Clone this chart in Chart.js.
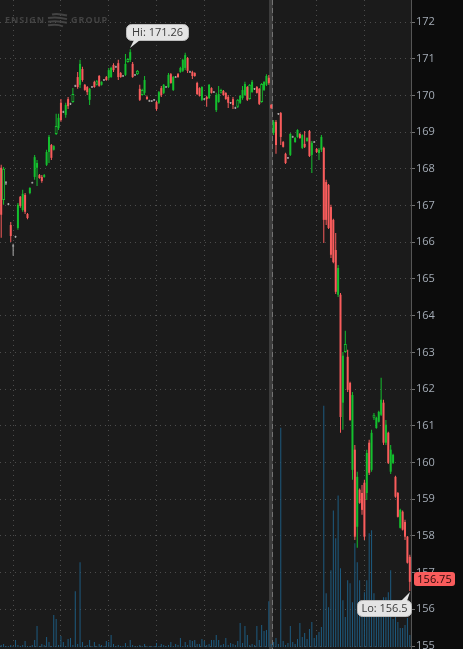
<!DOCTYPE html>
<html lang="en">
<head>
<meta charset="UTF-8">
<title>ENSG intraday</title>
<script src="https://cdn.jsdelivr.net/npm/chart.js"></script>
<style>
    html, body { margin: 0; padding: 0; background: #0c0c0c; }
    #wrap { width: 463px; height: 649px; }
</style>
</head>
<body>
<div id="wrap"><canvas id="priceChart" width="463" height="649"></canvas></div>
<script>
// 3-minute bars, two sessions (session break before bar 113)
const opens = [
    168.03,168.00,167.62,167.04,166.47,165.90,166.15,166.39,167.24,166.88,
    167.29,166.77,167.34,167.62,167.78,168.03,167.83,167.78,167.78,168.11,
    168.46,168.65,168.52,169.17,169.11,169.80,169.55,169.47,169.90,169.77,
    170.04,170.26,170.50,170.29,170.72,170.29,170.23,169.88,170.23,170.37,
    170.39,170.53,170.29,170.42,170.50,170.48,170.50,170.83,170.78,170.88,
    170.61,170.53,170.56,170.99,170.97,170.86,170.56,170.67,170.18,170.15,
    170.07,169.96,169.85,169.85,169.88,169.82,169.80,170.20,170.07,170.23,
    170.23,170.58,170.15,170.50,170.58,170.64,170.67,170.75,171.02,170.64,
    170.64,170.61,170.34,170.20,169.88,169.90,169.96,169.93,170.20,170.09,
    169.60,169.82,170.15,170.12,170.07,169.96,169.80,169.90,169.66,169.88,
    169.80,169.93,170.01,170.23,170.29,170.09,170.18,170.23,170.18,170.31,
    170.15,170.29,170.48,
    169.74,168.98,169.28,169.50,169.52,168.73,168.41,168.30,168.38,168.87,
    168.73,168.87,168.95,168.57,168.68,168.76,169.03,168.38,168.73,168.54,
    168.43,168.52,168.57,167.64,167.56,166.96,166.61,165.79,164.57,164.57,
    161.63,163.23,162.88,162.17,159.80,160.35,158.25,159.26,159.17,159.45,
    159.17,160.54,159.80,161.30,160.94,161.11,161.30,161.63,160.54,160.81,
    159.75,159.99,159.61,159.17,158.22,158.66,158.38,157.98,157.43
];
const highs = [
    168.11,168.05,167.67,167.07,166.55,165.96,166.18,167.07,167.26,167.43,
    167.34,166.80,167.50,167.65,168.38,168.24,167.86,167.83,167.86,168.52,
    168.92,168.68,168.64,169.50,169.50,169.90,169.58,169.80,169.96,169.80,
    170.20,170.29,170.64,170.97,170.78,170.31,170.26,170.20,170.26,170.40,
    170.42,170.56,170.39,170.45,170.53,170.75,170.78,170.88,170.81,170.97,
    170.64,170.56,171.13,171.02,171.26,170.91,170.58,170.69,170.29,170.18,
    170.53,170.00,169.88,169.87,169.90,169.85,170.12,170.26,170.31,170.26,
    170.61,170.61,170.53,170.53,170.61,170.78,171.00,171.16,171.05,170.67,
    170.67,170.63,170.37,170.22,170.25,169.93,169.99,170.31,170.22,170.12,
    170.07,170.26,170.18,170.15,170.09,170.01,169.82,169.96,169.69,169.90,
    170.01,170.26,170.37,170.26,170.31,170.42,170.20,170.26,170.20,170.34,
    170.39,170.58,170.56,
    169.77,169.33,169.33,169.52,169.55,168.76,168.44,168.32,168.98,168.90,
    168.87,169.08,168.98,168.94,169.03,168.86,169.06,168.76,168.76,168.57,
    168.57,168.92,168.60,167.70,167.59,167.02,166.64,166.25,165.38,164.62,
    163.01,163.59,163.07,162.20,161.92,160.48,159.75,159.29,159.39,159.53,
    160.35,160.62,160.89,161.35,161.25,161.41,162.31,161.71,161.16,160.84,
    160.48,160.24,159.64,159.20,158.74,158.69,158.44,158.00,157.49
];
const lows = [
    166.12,167.02,167.56,167.01,166.01,165.63,166.12,166.34,166.94,166.83,
    166.77,166.63,167.31,167.60,167.70,167.53,167.73,167.62,167.76,168.08,
    168.16,168.24,168.50,168.92,169.06,169.28,169.52,169.39,169.63,169.74,
    169.80,170.23,170.18,170.20,170.37,170.13,170.01,169.74,170.21,170.21,
    170.27,170.24,170.27,170.40,170.40,170.42,170.48,170.64,170.75,170.42,
    170.48,170.51,170.53,170.89,170.91,170.48,170.53,170.56,169.85,169.99,
    170.01,169.88,169.83,169.82,169.85,169.58,169.77,169.96,170.04,170.21,
    170.20,170.32,170.12,170.48,170.48,170.62,170.64,170.69,170.61,170.62,
    170.45,170.51,170.01,169.97,169.85,169.88,169.69,169.90,170.05,170.07,
    169.55,169.80,170.05,169.99,169.88,169.66,169.77,169.63,169.63,169.66,
    169.77,169.88,169.99,169.85,169.88,170.07,170.15,170.05,169.74,169.80,
    170.12,170.26,170.29,
    169.63,168.92,168.41,169.47,168.65,168.58,168.13,168.27,168.35,168.85,
    168.71,168.85,168.82,168.54,168.57,168.74,168.32,167.89,168.71,168.43,
    168.24,168.46,165.98,166.47,166.36,165.57,165.43,164.59,164.51,160.81,
    160.89,162.99,161.92,161.14,159.53,157.89,157.68,158.88,158.58,157.89,
    158.98,159.66,159.75,161.16,160.92,161.09,161.27,160.48,160.48,159.96,
    159.69,159.96,159.04,158.50,158.20,158.15,157.89,157.25,156.50
];
const closes = [
    166.75,167.15,167.62,167.04,166.17,165.90,166.15,167.02,166.99,167.32,
    166.83,166.66,167.48,167.62,168.32,168.16,167.75,167.67,167.83,168.46,
    168.87,168.30,168.62,168.95,169.39,169.33,169.55,169.74,169.71,169.77,
    169.82,170.26,170.23,170.86,170.42,170.15,170.09,170.18,170.23,170.23,
    170.29,170.26,170.37,170.42,170.42,170.69,170.75,170.69,170.78,170.50,
    170.50,170.53,170.86,170.91,171.18,170.50,170.56,170.58,169.88,170.01,
    170.42,169.90,169.85,169.85,169.88,169.63,170.09,170.01,170.29,170.23,
    170.56,170.34,170.50,170.50,170.50,170.75,170.97,171.10,170.67,170.64,
    170.53,170.53,170.04,169.99,170.23,169.90,169.90,170.29,170.07,170.09,
    170.01,170.04,170.07,170.01,169.90,169.80,169.80,169.74,169.66,169.69,
    169.99,170.15,170.31,169.88,169.90,170.37,170.18,170.07,169.77,169.82,
    170.37,170.53,170.34,
    169.66,169.28,168.65,169.50,168.87,168.60,168.16,168.30,168.95,168.87,
    168.84,169.06,168.84,168.92,168.60,168.84,168.35,168.71,168.73,168.46,
    168.52,168.87,166.61,166.61,166.39,165.66,165.46,164.65,165.30,161.24,
    162.91,163.01,161.98,161.16,161.84,157.98,159.61,158.90,158.71,157.98,
    160.26,159.72,160.81,161.22,161.22,161.38,161.71,160.54,161.03,159.99,
    160.35,160.21,159.07,158.52,158.71,158.17,157.98,157.27,156.75
];
const volumes = [
    200,300,100,100,200,100,700,200,100,200,
    600,100,100,200,700,2100,100,300,200,1000,
    500,100,3200,2800,200,1100,500,100,800,900,
    200,5600,300,8500,500,100,200,700,100,500,
    100,300,200,100,600,500,1200,300,100,200,
    100,100,400,100,700,200,100,100,200,100,
    300,100,100,100,100,400,100,300,200,100,
    200,500,100,300,200,900,100,500,200,700,
    600,700,300,300,800,600,200,300,700,700,
    1200,700,200,300,900,200,400,300,200,600,
    2400,400,2100,1200,200,300,200,2100,700,2200,
    1600,1700,4600,
    300,500,900,300,22000,600,200,400,2100,500,
    300,800,2400,1000,1400,800,1800,2500,900,1200,
    1500,2000,24200,5400,4000,7700,13700,10900,15200,7900,
    4700,3000,6700,6400,4500,10400,8500,6700,4000,5500,
    6700,11400,11700,5400,3000,3400,3400,5000,5000,5500,
    7700,2800,3400,2500,1900,1900,2200,2900,1200
];
const sessionBreak = 113;                       // first bar of second session
const hourBars = [5, 25, 45, 65, 85, 132, 152]; // bars carrying a vertical grid line

const GREEN = '#14bf2e';
const RED = '#f95c5c';
const GRAY = '#aeaeae';
const PANEL = '#1b1b1b';

const labels = closes.map((_, i) => i);

function isHollow(i) {
    return closes[i] < opens[i] && i > 0 && closes[i] > closes[i - 1];
}
function candleColor(i) {
    const o = opens[i], c = closes[i];
    if (c === o) return GRAY;
    if (c > o) return GREEN;
    return isHollow(i) ? GREEN : RED;
}
function bodyRange(i) {
    const o = opens[i], c = closes[i];
    if (Math.abs(o - c) < 0.025) {
        const m = (o + c) / 2;
        return [m - 0.0136, m + 0.0136];
    }
    return [o, c];
}

function roundRect(ctx, x, y, w, h, r) {
    ctx.beginPath();
    ctx.moveTo(x + r, y);
    ctx.arcTo(x + w, y, x + w, y + h, r);
    ctx.arcTo(x + w, y + h, x, y + h, r);
    ctx.arcTo(x, y + h, x, y, r);
    ctx.arcTo(x, y, x + w, y, r);
    ctx.closePath();
}

const decor = {
    id: 'decor',
    beforeDraw(chart) {
        const {ctx, chartArea: a} = chart;
        ctx.save();
        ctx.fillStyle = '#0c0c0c';
        ctx.fillRect(0, 0, chart.width, chart.height);
        ctx.fillStyle = PANEL;
        ctx.fillRect(a.left, a.top, a.right - a.left, a.bottom - a.top);

        // faint logo
        ctx.fillStyle = '#434343';
        ctx.font = 'bold 9px "Open Sans"';
        ctx.letterSpacing = '1px';
        ctx.textBaseline = 'middle';
        ctx.fillText('ENSIGN', 5, 20);
        ctx.fillText('GROUP', 71, 20);
        ctx.strokeStyle = '#434343';
        ctx.lineWidth = 2;
        for (let k = 0; k < 4; k++) {
            const y = 14.5 + k * 3.6;
            ctx.beginPath();
            ctx.moveTo(48 + (k === 0 ? 4 : 0), y);
            ctx.quadraticCurveTo(57, y - 1.5, 67 - (k === 3 ? 4 : 0), y + 1);
            ctx.stroke();
        }
        ctx.restore();
    },
    beforeDatasetsDraw(chart) {
        const {ctx, chartArea: a} = chart;
        const xs = chart.scales.x;
        const x = Math.round((xs.getPixelForValue(sessionBreak - 1) + xs.getPixelForValue(sessionBreak)) / 2) + 1;
        ctx.save();
        ctx.fillStyle = '#3c3c3c';
        ctx.fillRect(x - 2, a.top, 4, a.bottom - a.top);
        ctx.strokeStyle = '#747474';
        ctx.lineWidth = 1;
        ctx.setLineDash([5, 3]);
        ctx.beginPath();
        ctx.moveTo(x + 1.5, a.top);
        ctx.lineTo(x + 1.5, a.bottom);
        ctx.stroke();
        ctx.restore();
    },
    afterDraw(chart) {
        const {ctx} = chart;
        const xs = chart.scales.x, ys = chart.scales.y;
        const hiVal = Math.max(...highs), loVal = Math.min(...lows);
        const hiIdx = highs.indexOf(hiVal), loIdx = lows.indexOf(loVal);
        const last = closes[closes.length - 1];

        ctx.save();
        ctx.font = '11px "Open Sans"';
        ctx.textBaseline = 'middle';
        ctx.textAlign = 'center';

        // high bubble
        let px = Math.round(xs.getPixelForValue(hiIdx)), py = Math.round(ys.getPixelForValue(hiVal));
        let bx = px - 4, by = py - 25, bw = 62, bh = 16;
        ctx.fillStyle = '#e4e4e4';
        ctx.strokeStyle = '#bdbdbd';
        ctx.lineWidth = 1;
        roundRect(ctx, bx + 0.5, by + 0.5, bw, bh, 5);
        ctx.fill(); ctx.stroke();
        ctx.beginPath();
        ctx.moveTo(px + 4, by + bh);
        ctx.lineTo(px + 10, by + bh);
        ctx.lineTo(px, py - 1);
        ctx.closePath();
        ctx.fill();
        ctx.fillStyle = '#3a3a3a';
        ctx.fillText('Hi: ' + hiVal.toFixed(2), bx + bw / 2 + 0.5, by + bh / 2 + 1);

        // low bubble
        px = Math.round(xs.getPixelForValue(loIdx)); py = Math.round(ys.getPixelForValue(loVal));
        bw = 54; bx = px - bw + 1; by = py + 9;
        ctx.fillStyle = '#e4e4e4';
        roundRect(ctx, bx + 0.5, by + 0.5, bw, bh, 5);
        ctx.fill(); ctx.stroke();
        ctx.beginPath();
        ctx.moveTo(px - 9, by + 1);
        ctx.lineTo(px - 3, by + 1);
        ctx.lineTo(px, py + 1);
        ctx.closePath();
        ctx.fill();
        ctx.fillStyle = '#3a3a3a';
        ctx.fillText('Lo: ' + String(loVal), bx + bw / 2 + 0.5, by + bh / 2 + 1);

        // last price tag
        const ty = Math.round(ys.getPixelForValue(last));
        ctx.fillStyle = RED;
        roundRect(ctx, 414, ty - 10, 41, 14, 3);
        ctx.fill();
        ctx.fillStyle = '#2a0b0b';
        ctx.fillText(last.toFixed(2), 434.5, ty - 2);
        ctx.restore();
    }
};

new Chart(document.getElementById('priceChart'), {
    type: 'bar',
    data: {
        labels: labels,
        datasets: [
            {
                label: 'body',
                data: labels.map(i => isHollow(i) ? null : bodyRange(i)),
                backgroundColor: ctx => candleColor(ctx.dataIndex),
                barThickness: 2,
                inflateAmount: 0,
                grouped: false,
                order: 0
            },
            {
                label: 'hollow',
                data: labels.map(i => isHollow(i) ? [opens[i], closes[i]] : null),
                backgroundColor: PANEL,
                borderColor: GREEN,
                borderWidth: 1,
                borderSkipped: false,
                barThickness: 3,
                inflateAmount: 0,
                grouped: false,
                order: 1
            },
            {
                label: 'wick',
                data: labels.map(i => [lows[i], highs[i]]),
                backgroundColor: ctx => candleColor(ctx.dataIndex),
                barThickness: 1,
                inflateAmount: 0,
                grouped: false,
                order: 2
            },
            {
                label: 'volume',
                data: volumes,
                yAxisID: 'vol',
                backgroundColor: '#1d5b80',
                barThickness: 1,
                inflateAmount: 0,
                grouped: false,
                order: 3
            }
        ]
    },
    options: {
        responsive: false,
        animation: false,
        devicePixelRatio: 1,
        layout: { padding: 0 },
        plugins: {
            legend: { display: false },
            tooltip: { enabled: false }
        },
        scales: {
            x: {
                type: 'category',
                offset: true,
                grid: {
                    offset: false,
                    drawTicks: false,
                    color: ctx => hourBars.includes(ctx.index) ? '#4c4c4c' : 'rgba(0,0,0,0)'
                },
                border: { display: false, dash: [1, 4] },
                ticks: { display: false, autoSkip: false },
                afterFit: s => { s.height = 0; s.paddingLeft = 0; s.paddingRight = 0; }
            },
            y: {
                position: 'right',
                min: 154.92,
                max: 172.6,
                grid: {
                    color: '#4c4c4c',
                    tickColor: '#707070',
                    tickLength: 4
                },
                border: { display: true, color: '#555555', dash: [1, 4] },
                ticks: {
                    stepSize: 1,
                    includeBounds: false,
                    padding: 1,
                    color: '#a4acb6',
                    font: { family: 'Open Sans', size: 11 }
                },
                afterFit: s => { s.width = 52; s.paddingTop = 0; s.paddingBottom = 0; }
            },
            vol: {
                display: false,
                min: -200,
                max: 64900
            }
        }
    },
    plugins: [decor]
});
</script>
</body>
</html>
